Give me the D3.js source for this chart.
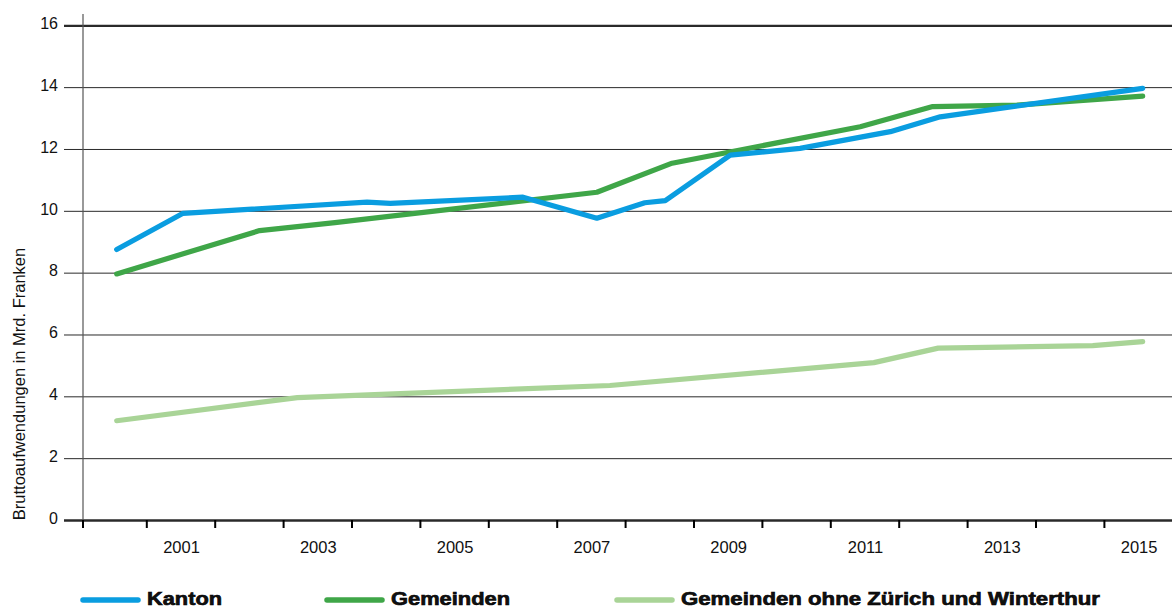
<!DOCTYPE html>
<html>
<head>
<meta charset="utf-8">
<script src="https://cdn.jsdelivr.net/npm/d3@7"></script>
<style>
  body { margin: 0; background: #fff; }
  svg { display: block; }
  text { font-family: "Liberation Sans", Arial, Helvetica, sans-serif; fill: #111; }
</style>
</head>
<body>
<svg id="chart" width="1172" height="609"></svg>
<script>
// Gross expenditure (Mrd. Franken); x positions are decimal years
const kantonYears  = [2000.06, 2001.03, 2003.72, 2004.06, 2006.00, 2007.08, 2007.78, 2008.08, 2009.03, 2010.05, 2011.37, 2012.10, 2015.06];
const kantonValues = [8.75, 9.92, 10.28, 10.24, 10.44, 9.76, 10.26, 10.33, 11.80, 12.02, 12.56, 13.04, 13.96];

const gemeindenYears  = [2000.06, 2002.15, 2003.25, 2007.08, 2008.18, 2010.93, 2011.99, 2013.22, 2015.06];
const gemeindenValues = [7.96, 9.36, 9.62, 10.60, 11.54, 12.72, 13.37, 13.42, 13.71];

const ohneZhWtYears  = [2000.06, 2002.70, 2007.27, 2011.13, 2012.07, 2014.33, 2015.06];
const ohneZhWtValues = [3.21, 3.96, 4.35, 5.09, 5.56, 5.64, 5.77];

const yTickValues = [0, 2, 4, 6, 8, 10, 12, 14, 16];
const xLabelYears = [2001, 2003, 2005, 2007, 2009, 2011, 2013, 2015];
const xTickYears  = [2000.5, 2001.5, 2002.5, 2003.5, 2004.5, 2005.5, 2006.5, 2007.5,
                     2008.5, 2009.5, 2010.5, 2011.5, 2012.5, 2013.5, 2014.5];

const seriesNames  = ["Kanton", "Gemeinden", "Gemeinden ohne Zürich und Winterthur"];
const seriesColors = ["#0a9de0", "#3fa648", "#a9d497"];
const yAxisTitle = "Bruttoaufwendungen in Mrd. Franken";

const svg = d3.select("#chart");
const W = 1172;
const gridLeft = 64, axisX = 83, y0 = 520, yTop = 25.3;

const x = d3.scaleLinear().domain([2001, 2015]).range([181, 1138.6]);
const y = d3.scaleLinear().domain([0, 16]).range([y0, yTop]);

// horizontal gridlines + y labels
const yAxis = svg.append("g")
  .attr("transform", `translate(${gridLeft},0)`)
  .call(d3.axisLeft(y).tickValues(yTickValues).tickSize(-(W - gridLeft)).tickPadding(6));
yAxis.select(".domain").remove();
yAxis.selectAll(".tick line")
  .attr("stroke", "#2a2a2a")
  .attr("stroke-width", d => (d === 16 ? 2.2 : d === 0 ? 2.6 : 1));
yAxis.selectAll(".tick text")
  .attr("font-size", 16)
  .attr("dy", "0.2em")
  .attr("fill", "#111");

// vertical axis line
svg.append("line")
  .attr("x1", axisX).attr("x2", axisX)
  .attr("y1", 14).attr("y2", y0 + 7)
  .attr("stroke", "#555").attr("stroke-width", 1.2);

// x ticks at year boundaries
svg.append("g").selectAll("line")
  .data([x.invert(axisX)].concat(xTickYears))
  .join("line")
  .attr("x1", d => x(d)).attr("x2", d => x(d))
  .attr("y1", y0).attr("y2", y0 + 8)
  .attr("stroke", "#000").attr("stroke-width", 2);

// x labels centred in each year
const xAxis = svg.append("g")
  .attr("transform", `translate(0,${y0})`)
  .call(d3.axisBottom(x).tickValues(xLabelYears).tickFormat(d3.format("d")).tickSize(0).tickPadding(21.5));
xAxis.select(".domain").remove();
xAxis.selectAll(".tick text").attr("font-size", 16.5).attr("fill", "#111");

// y axis title
svg.append("text")
  .attr("transform", `translate(25,384) rotate(-90)`)
  .attr("text-anchor", "middle")
  .attr("font-size", 16.5)
  .text(yAxisTitle);

// series lines
const line = d3.line().x(d => x(d[0])).y(d => y(d[1]));
const series = [
  d3.zip(ohneZhWtYears, ohneZhWtValues),
  d3.zip(gemeindenYears, gemeindenValues),
  d3.zip(kantonYears, kantonValues)
];
const seriesColorOrder = [seriesColors[2], seriesColors[1], seriesColors[0]];
svg.append("g").selectAll("path")
  .data(series)
  .join("path")
  .attr("d", line)
  .attr("fill", "none")
  .attr("stroke", (d, i) => seriesColorOrder[i])
  .attr("stroke-width", 5.2)
  .attr("stroke-linecap", "round")
  .attr("stroke-linejoin", "round");

// legend
const legendSwatchX = [83, 327, 617];
const legendTextWidth = [75, 119, 419];
const legend = svg.append("g").selectAll("g")
  .data(seriesNames)
  .join("g")
  .attr("transform", (d, i) => `translate(${legendSwatchX[i]},600)`);
legend.append("line")
  .attr("x1", 0).attr("x2", 55)
  .attr("stroke", (d, i) => seriesColors[i])
  .attr("stroke-width", 5.5)
  .attr("stroke-linecap", "round");
legend.append("text")
  .attr("x", 64).attr("y", 4.5)
  .attr("font-size", 17.5)
  .attr("font-weight", "bold")
  .attr("fill", "#000")
  .attr("stroke", "#000").attr("stroke-width", 0.6)
  .attr("textLength", (d, i) => legendTextWidth[i])
  .attr("lengthAdjust", "spacingAndGlyphs")
  .text(d => d);
</script>
</body>
</html>
